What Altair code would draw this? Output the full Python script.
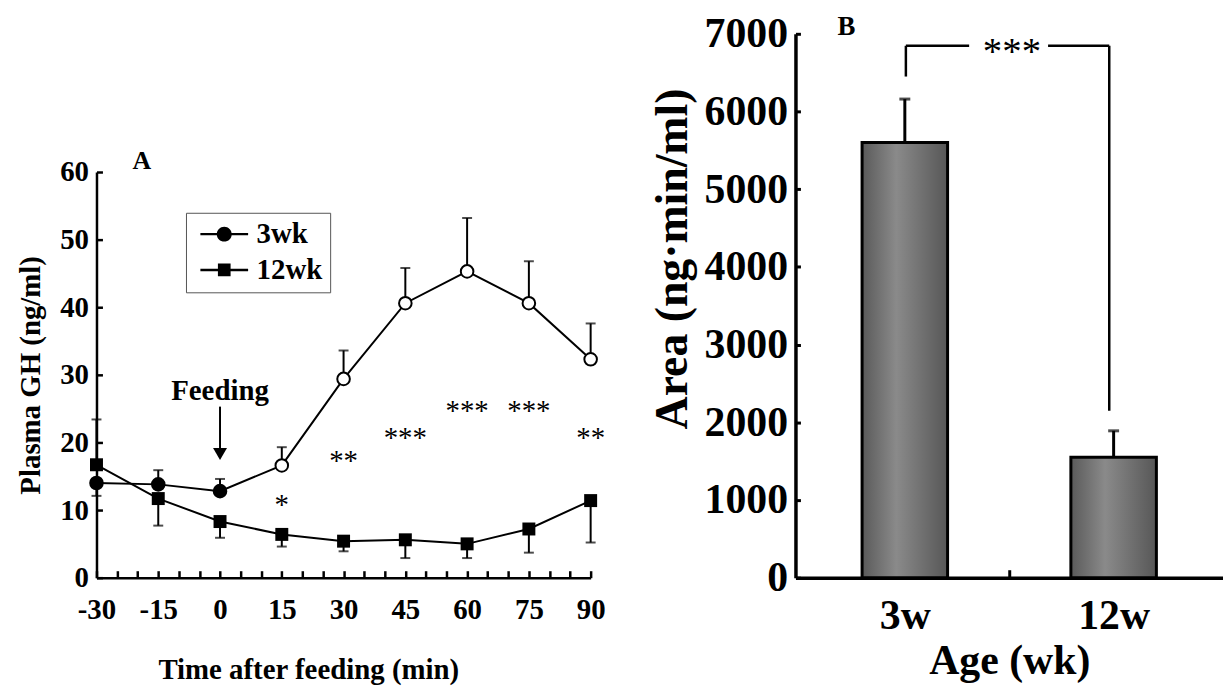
import altair as alt
import pandas as pd

FONT = "Liberation Serif"

# ---------------- Panel A data ----------------
times = [-30, -15, 0, 15, 30, 45, 60, 75, 90]
gh_3wk = [14.0, 13.8, 12.8, 16.6, 29.4, 40.6, 45.3, 40.6, 32.3]
gh_3wk_err = [12.1, 15.9, 14.6, 19.3, 33.6, 45.8, 53.2, 46.8, 37.6]
gh_12wk = [16.7, 11.7, 8.3, 6.4, 5.4, 5.6, 5.0, 7.2, 11.4]
gh_12wk_err = [23.4, 7.7, 5.9, 4.6, 3.9, 2.9, 2.9, 3.7, 5.2]
group_names = ["3wk", "12wk"]

x_labels_a = [-30, -15, 0, 15, 30, 45, 60, 75, 90]
x_minor_a = list(range(-30, 91, 5))
y_ticks_a = [0, 10, 20, 30, 40, 50, 60]

star_times = [15, 30, 45, 60, 75, 90]
star_levels = [11.3, 17.9, 21.3, 25.3, 25.3, 21.3]
star_marks = ["*", "**", "***", "***", "***", "**"]

feeding_time = [0]
feeding_text = ["Feeding"]
feeding_level = [27.6]
arrow_top = [25.3]
arrow_bottom = [19.0]
arrow_head = [18.3]

panel_a_text = ["A"]
panel_a_x = [-19.0]
panel_a_y = [61.6]

# ---------------- Panel B data ----------------
ages = ["3w", "12w"]
age_pos = [0.5, 1.5]
area_mean = [5600, 1550]
area_err = [6160, 1890]
y_ticks_b = [0, 1000, 2000, 3000, 4000, 5000, 6000, 7000]
x_mid_tick_b = [1.0]

bracket_x = [0.505, 0.505, 1.186, 1.479]
bracket_x2 = [0.505, 0.808, 1.479, 1.479]
bracket_y = [6450, 6846, 6846, 2150]
bracket_y2 = [6846, 6846, 6846, 6846]
sig_text = ["***"]
sig_x = [1.013]
sig_y = [6846]

panel_b_text = ["B"]
panel_b_x = [0.22]
panel_b_y = [7090]

# ---------------- Panel A ----------------
df_a = pd.DataFrame({
    "time": times * 2,
    "gh": gh_3wk + gh_12wk,
    "err_end": gh_3wk_err + gh_12wk_err,
    "group": [group_names[0]] * len(times) + [group_names[1]] * len(times),
})

xs_a = alt.Scale(domain=[-30, 90], nice=False, zero=False)
ys_a = alt.Scale(domain=[0, 60], range=[547, 139], nice=False, zero=False)

lab = dict(labelFont=FONT, labelFontWeight="bold", labelColor="black")
tit = dict(titleFont=FONT, titleFontWeight="bold", titleColor="black")

ax_x_main_a = alt.Axis(values=x_labels_a, ticks=False, grid=False, domainColor="black",
                       domainWidth=2.5, labelFontSize=29, labelPadding=18, labelFlush=False,
                       labelOverlap=False,
                       labelExpr="datum.value < 0 ? '-' + (-datum.value) : '' + datum.value",
                       title="Time after feeding (min)", titleFontSize=29, titlePadding=31,
                       titleX=213, orient="bottom", **lab, **tit)
ax_x_minor_a = alt.Axis(values=x_minor_a, ticks=True, tickSize=7, tickWidth=2.5, tickColor="black",
                        domain=False, labels=False, grid=False, offset=-7, title=None, orient="bottom")
ax_y_main_a = alt.Axis(values=y_ticks_a, ticks=False, grid=False, domainColor="black", domainWidth=2.5,
                       labelFontSize=29, labelPadding=8, title="Plasma GH (ng/ml)", titleFontSize=29,
                       titlePadding=14, orient="left", **lab, **tit)
ax_y_minor_a = alt.Axis(values=y_ticks_a, ticks=True, tickSize=6, tickWidth=2.5, tickColor="black",
                        domain=False, labels=False, grid=False, offset=-6, title=None, orient="left")


def xa(field="time", axis=None):
    return alt.X(f"{field}:Q", scale=xs_a, axis=axis)


def ya(field="gh", axis=None):
    return alt.Y(f"{field}:Q", scale=ys_a, axis=axis)


base_a = alt.Chart(df_a)
lines_a = base_a.mark_line(color="black", strokeWidth=2).encode(
    x=xa(axis=ax_x_main_a), y=ya(axis=ax_y_main_a), detail="group:N")
err_a = base_a.mark_rule(color="black", strokeWidth=2).encode(
    x=xa(axis=ax_x_minor_a), y=ya(axis=ax_y_minor_a), y2="err_end:Q")
caps_a = base_a.mark_tick(color="black", orient="horizontal", size=10, thickness=2).encode(
    x=xa(), y=ya("err_end"))
pts3 = base_a.transform_filter(f"datum.group == '{group_names[0]}'").mark_point(
    shape="circle", size=160, strokeWidth=2, color="black", opacity=1).encode(
    x=xa(), y=ya(),
    fill=alt.condition("datum.time > 0", alt.value("white"), alt.value("black")))
pts12 = base_a.transform_filter(f"datum.group == '{group_names[1]}'").mark_point(
    shape="square", size=170, filled=True, color="black", opacity=1).encode(x=xa(), y=ya())

circle_path = ("M-3.2,-0.16L-0.95,-0.16L-0.95,0.16L-3.2,0.16Z "
               "M0.95,-0.16L3.2,-0.16L3.2,0.16L0.95,0.16Z "
               "M-1,0A1,1 0 1,1 1,0A1,1 0 1,1 -1,0Z")
square_path = ("M-3.2,-0.16L-0.85,-0.16L-0.85,0.16L-3.2,0.16Z "
               "M0.85,-0.16L3.2,-0.16L3.2,0.16L0.85,0.16Z "
               "M-0.85,-0.85L0.85,-0.85L0.85,0.85L-0.85,0.85Z")

legend_layer = base_a.transform_filter("datum.time > 1000").mark_point(
    filled=True, color="black").encode(
    x=xa(), y=ya(),
    shape=alt.Shape("group:N", title=None,
                    scale=alt.Scale(domain=group_names, range=[circle_path, square_path]),
                    legend=alt.Legend(orient="none", legendX=90, legendY=180, direction="vertical",
                                      padding=7, strokeColor="#555555", fillColor="white",
                                      labelFont=FONT, labelFontSize=29, labelFontWeight="bold",
                                      labelColor="black", labelOffset=18, symbolOffset=17,
                                      symbolSize=225, symbolFillColor="black",
                                      symbolStrokeColor="black", symbolStrokeWidth=0.5,
                                      symbolOpacity=1, rowPadding=6, labelLimit=300)))

df_stars = pd.DataFrame({"time": star_times, "level": star_levels, "mark": star_marks})
stars_a = alt.Chart(df_stars).mark_text(font=FONT, fontSize=29, color="black",
                                        baseline="alphabetic", dy=13).encode(
    x=xa(), y=ya("level"), text="mark:N")

df_feed = pd.DataFrame({"time": feeding_time, "label": feeding_text, "level": feeding_level,
                        "top": arrow_top, "bottom": arrow_bottom, "head": arrow_head})
feed_text = alt.Chart(df_feed).mark_text(font=FONT, fontSize=29, fontWeight="bold", color="black",
                                         baseline="middle").encode(
    x=xa(), y=ya("level"), text="label:N")
feed_shaft = alt.Chart(df_feed).mark_rule(color="black", strokeWidth=2).encode(
    x=xa(), y=ya("top"), y2="bottom:Q")
feed_head = alt.Chart(df_feed).mark_point(shape="triangle-down", size=196, filled=True,
                                          color="black", opacity=1).encode(x=xa(), y=ya("head"))

df_alab = pd.DataFrame({"time": panel_a_x, "level": panel_a_y, "label": panel_a_text})
a_label = alt.Chart(df_alab).mark_text(font=FONT, fontSize=26, fontWeight="bold", color="black",
                                       baseline="middle").encode(
    x=xa(), y=ya("level"), text="label:N")

chart_a = alt.layer(lines_a, err_a, caps_a, pts3, pts12, legend_layer, stars_a, feed_text,
                    feed_shaft, feed_head, a_label).resolve_axis(
    x="independent", y="independent").properties(width=497, height=547)

# ---------------- Panel B ----------------
df_b = pd.DataFrame({"pos": age_pos, "age": ages, "area": area_mean, "err_end": area_err})
xs_b = alt.Scale(domain=[0, 2], nice=False, zero=False)
ys_b = alt.Scale(domain=[0, 7000], nice=False)

ax_x_main_b = alt.Axis(values=age_pos, ticks=False, grid=False, domainColor="black", domainWidth=3.5,
                       labelExpr=f"datum.value < 1 ? '{ages[0]}' : '{ages[1]}'",
                       labelFontSize=42, labelPadding=18, labelFlush=False,
                       title="Age (wk)", titleFontSize=42, titlePadding=4, orient="bottom",
                       **lab, **tit)
ax_x_minor_b = alt.Axis(values=x_mid_tick_b, ticks=True, tickSize=8, tickWidth=3, tickColor="black",
                        domain=False, labels=False, grid=False, offset=-8, title=None, orient="bottom")
ax_y_main_b = alt.Axis(values=y_ticks_b, ticks=False, grid=False, domainColor="black", domainWidth=3.5,
                       format="d", labelFontSize=42, labelPadding=8, title="Area (ng\u00b7min/ml)",
                       titleFontSize=46, titlePadding=8, titleY=226, orient="left", **lab, **tit)
ax_y_minor_b = alt.Axis(values=y_ticks_b, ticks=True, tickSize=5, tickWidth=3, tickColor="black",
                        domain=False, labels=False, grid=False, offset=-5, title=None, orient="left")


def xb(field="pos", axis=None):
    return alt.X(f"{field}:Q", scale=xs_b, axis=axis)


def yb(field="area", axis=None):
    return alt.Y(f"{field}:Q", scale=ys_b, axis=axis)


bar_fill = alt.Gradient(
    gradient="linear", x1=0, x2=1, y1=0, y2=0,
    stops=[alt.GradientStop(color="#5a5a5a", offset=0),
           alt.GradientStop(color="#8a8a8a", offset=0.4),
           alt.GradientStop(color="#575757", offset=1)])

base_b = alt.Chart(df_b)
bars_b = base_b.mark_bar(orient="vertical", size=86, stroke="black", strokeWidth=3,
                         fill=bar_fill).encode(
    x=xb(axis=ax_x_main_b), y=yb(axis=ax_y_main_b))
err_b = base_b.mark_rule(color="black", strokeWidth=3).encode(
    x=xb(axis=ax_x_minor_b), y=yb(axis=ax_y_minor_b), y2="err_end:Q")
caps_b = base_b.mark_tick(color="black", orient="horizontal", size=11, thickness=3).encode(
    x=xb(), y=yb("err_end"))

df_br = pd.DataFrame({"x": bracket_x, "x2": bracket_x2, "y": bracket_y, "y2": bracket_y2})
bracket_b = alt.Chart(df_br).mark_rule(color="black", strokeWidth=2.5).encode(
    x=xb("x"), x2="x2:Q", y=yb("y"), y2="y2:Q")

df_sig = pd.DataFrame({"pos": sig_x, "level": sig_y, "label": sig_text})
sig_b = alt.Chart(df_sig).mark_text(font=FONT, fontSize=39, color="black", baseline="alphabetic",
                                    dy=18).encode(x=xb(), y=yb("level"), text="label:N")

df_blab = pd.DataFrame({"pos": panel_b_x, "level": panel_b_y, "label": panel_b_text})
b_label = alt.Chart(df_blab).mark_text(font=FONT, fontSize=27, fontWeight="bold", color="black",
                                       baseline="middle").encode(
    x=xb(), y=yb("level"), text="label:N")

chart_b = alt.layer(bars_b, err_b, caps_b, bracket_b, sig_b, b_label).resolve_axis(
    x="independent", y="independent").properties(width=430, height=547)

chart = alt.hconcat(chart_a, chart_b, spacing=206, bounds="flush").properties(
    padding={"left": 9, "top": 2, "right": 0, "bottom": 0}, background="white"
).configure_view(strokeWidth=0)

chart.save("out.html", embed_options={"renderer": "svg", "actions": False})
